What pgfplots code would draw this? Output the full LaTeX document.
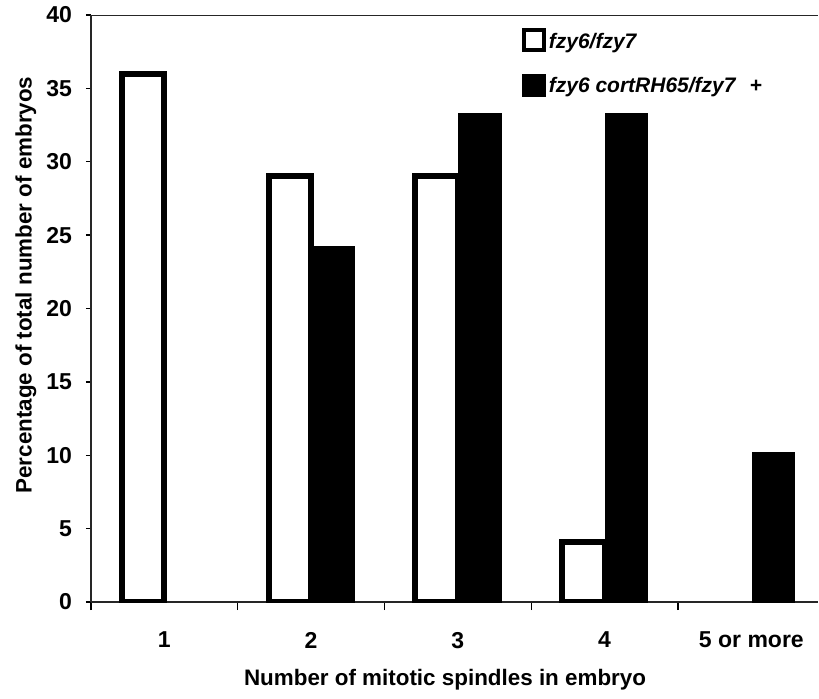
\documentclass[border=0pt]{standalone}
\usepackage{fontspec}
\setmainfont{Liberation Sans}
\usepackage{pgfplots}
\pgfplotsset{compat=1.18}
\begin{document}
\begin{tikzpicture}
\begin{axis}[
  name=ax,
  scale only axis,
  width=363.5pt, height=293.5pt,
  xmin=-0.5, xmax=4.454,
  ymin=0, ymax=40,
  axis lines=left,
  axis line style={-, line width=0.7pt, black!85},
  ytick={0,5,...,40},
  xtick={0,1,2,3,4},
  xticklabels={1,2,3,4,5 or more},
  minor xtick={-0.5,0.5,1.5,2.5,3.5},
  tick align=outside,
  major tick length=2.5pt,
  minor tick length=4pt,
  xtick style={draw=none},
  minor x tick style={draw=black, line width=0.7pt},
  y tick style={draw=black, line width=0.7pt},
  /pgf/number format/assume math mode=true,
  tick label style={font=\bfseries\fontsize{11.5}{13}\selectfont},
  yticklabel style={xshift=-3.5pt},
  xticklabel style={yshift=-9pt},
  xlabel={Number of mitotic spindles in embryo},
  ylabel={Percentage of total number of embryos},
  label style={font=\bfseries\fontsize{11.2}{13}\selectfont},
  xlabel style={at={(axis description cs:0.487,-0.133)}, anchor=center},
  ylabel style={at={(axis description cs:-0.0894,0.54)}, anchor=center},
  ybar, bar width=0.29,
  legend style={draw=none, fill=none, at={(axis description cs:0.584,0.985)}, anchor=north west,
    font=\bfseries\itshape\fontsize{10.5}{12}\selectfont, row sep=10pt,
    cells={anchor=west}, nodes={inner sep=1.2pt}},
]
\addplot[draw=black, line width=3pt, fill=white, bar shift=-0.145,
  legend image code/.code={\draw[line width=2pt, draw=black, fill=white] (0.5pt,-4pt) rectangle (10.5pt,6pt);}]
  coordinates {(0,36.0) (1,29.0) (2,29.0) (3,4.1)};
\addlegendentry{fzy6/fzy7}
\addplot[draw=black, line width=0.5pt, fill=black, bar shift=0.15,
  legend image code/.code={\fill[black] (-0.5pt,-5pt) rectangle (11pt,6pt);}]
  coordinates {(1,24.2) (2,33.3) (3,33.3) (4,10.2)};
\addlegendentry{fzy6 cortRH65/fzy7\hspace{7pt}+}
\draw[line width=0.7pt, black!85] (rel axis cs:0,1) -- (rel axis cs:1,1);
\end{axis}
\pgfresetboundingbox
\path ([shift={(-45.5pt,-48pt)}]ax.south west) rectangle ([shift={(0.5pt,7.5pt)}]ax.north east);
\end{tikzpicture}
\end{document}
